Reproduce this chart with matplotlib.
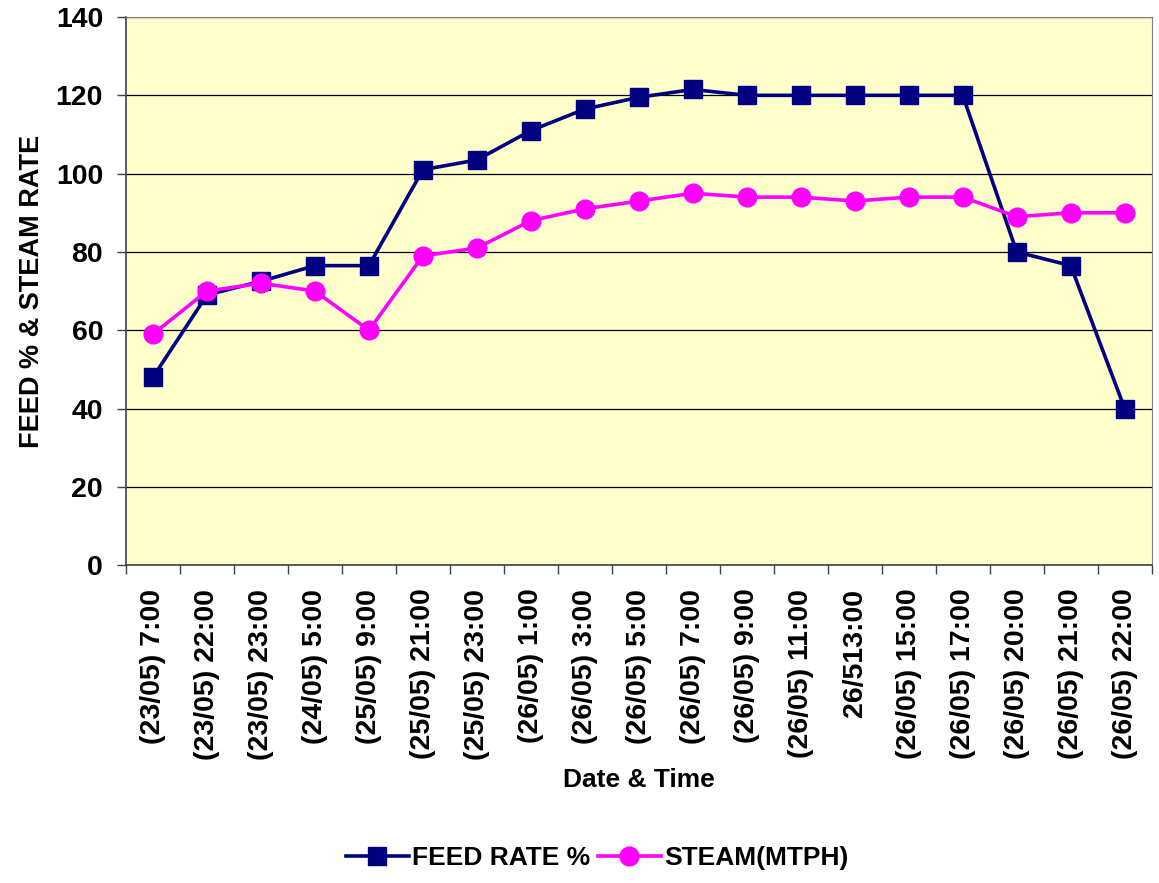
import matplotlib
matplotlib.use("Agg")
import matplotlib.pyplot as plt
from matplotlib.ticker import FixedLocator, NullFormatter

categories = ["(23/05) 7:00", "(23/05) 22:00", "(23/05) 23:00", "(24/05) 5:00",
              "(25/05) 9:00", "(25/05) 21:00", "(25/05) 23:00", "(26/05) 1:00",
              "(26/05) 3:00", "(26/05) 5:00", "(26/05) 7:00", "(26/05) 9:00",
              "(26/05) 11:00", "26/513:00", "(26/05) 15:00", "(26/05) 17:00",
              "(26/05) 20:00", "(26/05) 21:00", "(26/05) 22:00"]
feed_rate = [48, 69, 72.5, 76.5, 76.5, 101, 103.5, 111, 116.5, 119.5, 121.5,
             120, 120, 120, 120, 120, 80, 76.5, 40]
steam = [59, 70, 72, 70, 60, 79, 81, 88, 91, 93, 95, 94, 94, 93, 94, 94, 89, 90, 90]

plt.rcParams['font.family'] = ['Liberation Sans', 'DejaVu Sans']
plt.rcParams['font.weight'] = 'bold'

fig = plt.figure(figsize=(11.59, 8.83), dpi=100)
ax = fig.add_axes([0.1087, 0.360, 0.885, 0.6207])
ax.set_facecolor('#FFFFCC')

x = list(range(len(categories)))
ax.plot(x, feed_rate, color='#000080', lw=2.6, marker='s', ms=13.5,
        label='FEED RATE %', zorder=3)
ax.plot(x, steam, color='#FF00FF', lw=2.6, marker='o', ms=13.5,
        label='STEAM(MTPH)', zorder=3)

ax.set_xlim(-0.5, len(categories) - 0.5)
ax.set_ylim(0, 140)
ax.set_yticks(range(0, 141, 20))
ax.yaxis.grid(True, color='black', lw=0.9)
ax.set_axisbelow(True)

ax.set_xticks(x)
ax.set_xticklabels(categories, rotation=90, fontsize=20.5, fontweight='bold')
ax.tick_params(axis='x', which='major', length=0, pad=17)
ax.xaxis.set_minor_locator(FixedLocator([i - 0.5 for i in range(len(categories) + 1)]))
ax.xaxis.set_minor_formatter(NullFormatter())
ax.tick_params(axis='x', which='minor', length=6.5, width=1, color='#404040', direction='out')
ax.tick_params(axis='y', labelsize=20.5, length=6.5, width=1, direction='out',
               color='#404040', pad=10)
for lbl in ax.get_yticklabels():
    lbl.set_fontweight('bold')

for s in ['top', 'right']:
    ax.spines[s].set_color('#808080')
for s in ['left', 'bottom']:
    ax.spines[s].set_color('#404040')
    ax.spines[s].set_linewidth(1.2)

ax.set_xlabel('Date & Time', fontsize=19, fontweight='bold', labelpad=6)
ax.set_ylabel('FEED % & STEAM RATE', fontsize=19.5, fontweight='bold', labelpad=8)

fig.legend(loc='center', bbox_to_anchor=(0.515, 0.028), ncol=2, frameon=False,
           handlelength=2.4, columnspacing=0.3, handletextpad=0.1,
           prop={'weight': 'bold', 'size': 19})

fig.savefig('out.png', dpi=100)
